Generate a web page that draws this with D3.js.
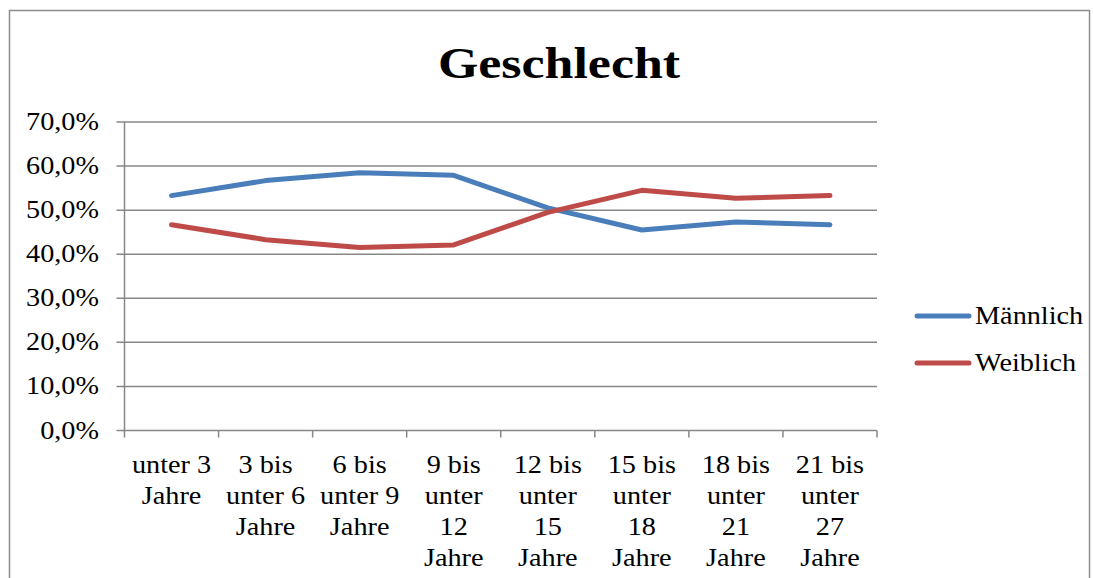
<!DOCTYPE html>
<html><head><meta charset="utf-8">
<script src="https://cdn.jsdelivr.net/npm/d3@7"></script>
<style>body{margin:0;background:#fff;}svg{display:block;}text{font-family:"Liberation Serif","DejaVu Serif",serif;fill:#000;}</style>
</head><body>
<svg id="c" width="1093" height="578"></svg>
<script>
const categories = [["unter 3","Jahre"],["3 bis","unter 6","Jahre"],["6 bis","unter 9","Jahre"],["9 bis","unter","12","Jahre"],["12 bis","unter","15","Jahre"],["15 bis","unter","18","Jahre"],["18 bis","unter","21","Jahre"],["21 bis","unter","27","Jahre"]];
const maennlich = [53.3, 56.7, 58.5, 57.9, 50.5, 45.5, 47.3, 46.7];
const weiblich  = [46.7, 43.3, 41.5, 42.1, 49.5, 54.5, 52.7, 53.3];
const yTicks = [0,10,20,30,40,50,60,70];
const seriesNames = ["Männlich","Weiblich"];
const colors = ["#4A7EBB","#BE4B48"];

const svg = d3.select("#c");
const L=124.5, R=877, T=122, B=430.5;
const sx = 1.13;

svg.append("rect").attr("x",9.5).attr("y",10.5).attr("width",1080).attr("height",600)
  .attr("fill","none").attr("stroke","#8c8c8c").attr("stroke-width",1.5);

svg.append("text").attr("x",559).attr("y",78).attr("text-anchor","middle")
  .attr("font-size",44).attr("font-weight","bold")
  .attr("transform","translate(559,0) scale(1.18,1) translate(-559,0)")
  .text("Geschlecht");

const x = d3.scaleBand().domain(d3.range(categories.length)).range([L,R]);
const y = d3.scaleLinear().domain([0,70]).range([B,T]);

const g = svg.append("g");
g.selectAll("line.grid").data(yTicks).join("line")
  .attr("x1",L-8).attr("x2",R).attr("y1",d=>y(d)).attr("y2",d=>y(d))
  .attr("stroke","#878787").attr("stroke-width",1.5);
g.append("line").attr("x1",L).attr("x2",L).attr("y1",T).attr("y2",B+1)
  .attr("stroke","#878787").attr("stroke-width",1.5);
g.selectAll("text.yl").data(yTicks).join("text")
  .attr("text-anchor","end").attr("font-size",25)
  .attr("transform",d=>`translate(99,${y(d)+8}) scale(${sx},1)`)
  .text(d=>d3.format(".1f")(d).replace(".",",")+"%");
const xt = d3.range(categories.length+1).map(i=> i<categories.length ? x(i) : R);
g.selectAll("line.xt").data(xt).join("line")
  .attr("x1",d=>d).attr("x2",d=>d).attr("y1",B).attr("y2",B+7)
  .attr("stroke","#878787").attr("stroke-width",1.5);
categories.forEach((lines,i)=>{
  const cx = x(i)+x.bandwidth()/2;
  lines.forEach((t,j)=>{
    g.append("text").attr("text-anchor","middle").attr("font-size",25)
      .attr("transform",`translate(${cx},${473+j*31}) scale(${sx},1)`)
      .text(t);
  });
});

const line = d3.line().x((d,i)=>x(i)+x.bandwidth()/2).y(d=>y(d));
[maennlich,weiblich].forEach((s,k)=>{
  g.append("path").datum(s).attr("d",line).attr("fill","none")
    .attr("stroke",colors[k]).attr("stroke-width",5)
    .attr("stroke-linecap","round").attr("stroke-linejoin","round");
});

seriesNames.forEach((n,k)=>{
  const ly = 316 + k*47;
  svg.append("line").attr("x1",917).attr("x2",969).attr("y1",ly).attr("y2",ly)
    .attr("stroke",colors[k]).attr("stroke-width",5).attr("stroke-linecap","round");
  svg.append("text").attr("font-size",25)
    .attr("transform",`translate(975,${ly+8}) scale(${sx},1)`).text(n);
});
</script>
</body></html>
